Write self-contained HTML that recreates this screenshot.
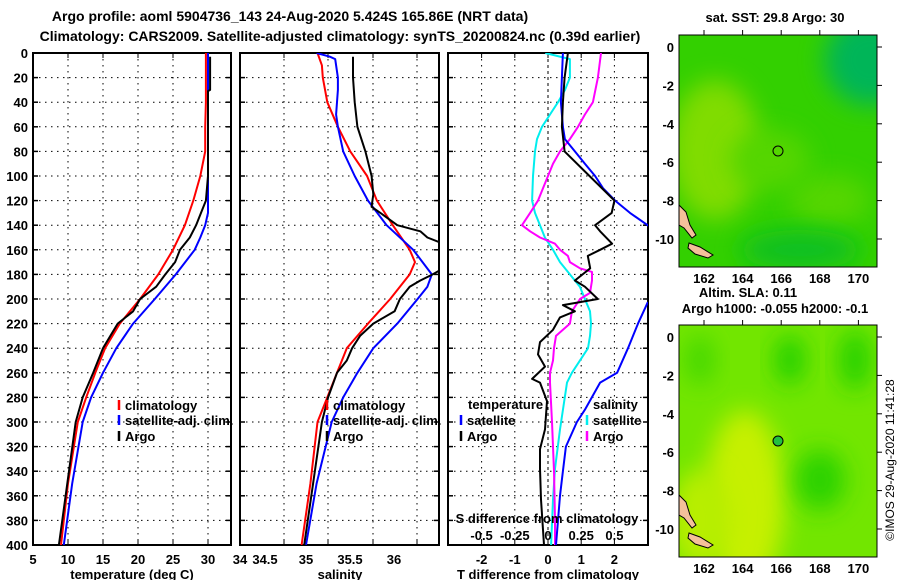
<!DOCTYPE html>
<html><head><meta charset="utf-8"><style>
body{margin:0;background:#fff;}
svg{display:block;font-family:"Liberation Sans",Arial,sans-serif;}
.t{font-weight:bold;font-size:13px;fill:#000;}
.ti{font-weight:bold;font-size:14px;fill:#000;}
</style></head><body>
<svg id="c" width="900" height="580" viewBox="0 0 900 580">
<defs>
<clipPath id="cp1"><rect x="33" y="53" width="198" height="492"/></clipPath>
<clipPath id="cp2"><rect x="240" y="53" width="199" height="492"/></clipPath>
<clipPath id="cp3"><rect x="448" y="53" width="200" height="492"/></clipPath>
<clipPath id="m1c"><rect x="679" y="35" width="198" height="232"/></clipPath>
<clipPath id="m2c"><rect x="679" y="325" width="198" height="232"/></clipPath>
<filter id="bl" x="-50%" y="-50%" width="200%" height="200%"><feGaussianBlur stdDeviation="12"/></filter>
</defs>
<text class="ti" x="290" y="21" text-anchor="middle">Argo profile: aoml 5904736_143 24-Aug-2020 5.424S 165.86E (NRT data)</text>
<text class="ti" x="340" y="41" text-anchor="middle">Climatology: CARS2009. Satellite-adjusted climatology: synTS_20200824.nc (0.39d earlier)</text>
<g id="axes"></g>
<g id="series"></g>
<g id="legends"></g>
<g>
<text class="t" x="775" y="22" text-anchor="middle">sat. SST: 29.8 Argo: 30</text>
<g clip-path="url(#m1c)">
<rect x="679" y="35" width="198" height="232" fill="#33d000"/>
<ellipse cx="715" cy="150" rx="45" ry="70" fill="#80dc00" filter="url(#bl)"/>
<ellipse cx="830" cy="200" rx="40" ry="25" fill="#55d600" filter="url(#bl)"/>
<ellipse cx="770" cy="160" rx="40" ry="30" fill="#55d600" filter="url(#bl)"/>
<ellipse cx="870" cy="60" rx="45" ry="45" fill="#00b558" filter="url(#bl)"/>
<ellipse cx="800" cy="250" rx="60" ry="20" fill="#11c020" filter="url(#bl)"/>
<path d="M679 205 L686 212 L690 225 L696 235 L692 238 L684 228 L679 225Z" fill="#f4c09a" stroke="#000" stroke-width="1"/>
<path d="M689 243 L700 247 L713 255 L708 258 L695 254 L688 248Z" fill="#f4c09a" stroke="#000" stroke-width="1"/>
<circle cx="778" cy="151" r="5" fill="none" stroke="#000" stroke-width="1"/>
</g>
<rect x="679" y="35" width="198" height="232" fill="none" stroke="#000"/>
</g>
<text class="t" x="748" y="297" text-anchor="middle">Altim. SLA: 0.11</text>
<text class="t" x="775" y="313" text-anchor="middle">Argo h1000: -0.055 h2000: -0.1</text>
<g>
<g clip-path="url(#m2c)">
<rect x="679" y="325" width="198" height="232" fill="#72e600"/>
<ellipse cx="745" cy="500" rx="40" ry="90" fill="#c6f000" filter="url(#bl)"/>
<ellipse cx="700" cy="520" rx="30" ry="50" fill="#b8ee00" filter="url(#bl)"/>
<ellipse cx="820" cy="480" rx="25" ry="30" fill="#2ad200" filter="url(#bl)"/>
<ellipse cx="790" cy="360" rx="15" ry="25" fill="#22d000" filter="url(#bl)"/>
<ellipse cx="855" cy="360" rx="15" ry="30" fill="#22d000" filter="url(#bl)"/>
<ellipse cx="700" cy="360" rx="15" ry="25" fill="#44d800" filter="url(#bl)"/>
<path d="M679 495 L686 502 L690 515 L696 525 L692 528 L684 518 L679 515Z" fill="#f4c09a" stroke="#000" stroke-width="1"/>
<path d="M689 533 L700 537 L713 545 L708 548 L695 544 L688 538Z" fill="#f4c09a" stroke="#000" stroke-width="1"/>
<circle cx="778" cy="441" r="5" fill="#22c040" stroke="#000" stroke-width="1"/>
</g>
<rect x="679" y="325" width="198" height="232" fill="none" stroke="#000"/>
</g>
<g id="maptix"></g>
<text x="894" y="460" font-size="12" text-anchor="middle" transform="rotate(-90 894 460)">©IMOS 29-Aug-2020 11:41:28</text>
</svg>
<script>
const depthTicks=[0,20,40,60,80,100,120,140,160,180,200,220,240,260,280,300,320,340,360,380,400];
const tTicks=[5,10,15,20,25,30];
const sTickLabels=["34.5","35","35.5","36"];
const tdTicks=[-2,-1,0,1,2];
const sdTicks=[-0.5,-0.25,0,0.25,0.5];
const latTicks=[0,-2,-4,-6,-8,-10];
const lonTicks=[162,164,166,168,170];
// Panel 1: temperature
const tDepthClim=[0,40,60,80,100,120,140,160,180,200,220,240,260,280,300,350,400];
const tClim=[29.7,29.7,29.6,29.6,28.9,27.9,26.7,25,22.9,20.3,17.4,15.3,13.9,12.6,11.4,10,9];
const tDepthSat=[0,120,130,140,150,160,180,200,220,240,260,280,300,350,400];
const tSat=[30,30,30,29.6,28.9,28.1,25.4,22.4,19.3,16.9,15,13.3,12.1,10.6,9.4];
const tDepthArgo=[3,30,31,100,120,130,140,150,160,170,180,190,200,210,220,240,260,280,300,400];
const tArgo=[30.3,30.3,30,30,29.7,29,28.3,27.4,26,25.3,23.9,22.6,20.3,19.3,17.1,15,13.6,12.1,11.1,8.7];
// Panel 2: salinity
const sDepthClim=[0,10,20,40,60,80,100,120,140,160,170,180,190,200,220,240,260,280,300,350,400];
const sClim=[35.13,35.18,35.19,35.24,35.36,35.5,35.69,35.8,35.98,36.17,36.23,36.17,36.06,35.95,35.7,35.46,35.35,35.24,35.13,35.05,34.95];
const sDepthSat=[0,3,5,10,20,30,40,50,60,80,100,120,140,160,180,190,200,220,240,260,280,300,350,400];
const sSat=[35.12,35.27,35.33,35.34,35.36,35.36,35.35,35.34,35.36,35.42,35.55,35.7,35.91,36.21,36.42,36.37,36.26,36.03,35.76,35.58,35.42,35.29,35.12,35.0];
const sDepthArgo=[3,20,40,60,80,100,115,125,130,140,145,150,155,175,180,185,190,200,210,220,230,240,250,260,280,300,350,400];
const sArgo=[35.53,35.53,35.55,35.58,35.67,35.74,35.76,35.74,35.84,36.03,36.29,36.37,36.55,36.55,36.43,36.29,36.17,36.06,36,35.76,35.61,35.52,35.46,35.35,35.25,35.18,35.08,34.98];
// Panel 3: differences
const dDepthTArgo=[0,20,40,60,80,100,120,130,140,145,155,160,165,175,185,190,200,205,210,215,225,235,245,255,265,268,283,306,322,338,363,400];
const dTArgo=[0.6,0.5,0.45,0.42,0.5,1.25,2.0,1.92,1.42,1.57,1.93,1.57,1.2,1.27,0.81,1.11,1.5,0.45,0.81,0.36,0.15,-0.24,-0.3,-0.09,-0.48,-0.24,-0.03,-0.09,-0.24,-0.24,-0.21,-0.12];
const dDepthTSat=[0,20,40,60,70,80,90,100,110,120,130,140,150,200,203,220,240,260,268,290,300,320,340,360,380,400];
const dTSat=[0.45,0.42,0.39,0.45,0.51,0.81,1.11,1.42,1.66,2.02,2.47,3.0,3.5,3.5,3.0,2.71,2.41,2.08,1.57,1.11,0.87,0.54,0.45,0.36,0.3,0.24];
const dDepthSSat=[0,5,10,20,30,40,50,60,70,80,100,120,130,140,150,160,170,180,190,200,210,220,230,240,260,268,306,338,363,400];
const dSSat=[-0.02,0.165,0.165,0.165,0.128,0.075,0.015,-0.045,-0.083,-0.098,-0.113,-0.12,-0.098,-0.06,-0.023,0.038,0.09,0.165,0.24,0.278,0.316,0.324,0.316,0.301,0.18,0.143,0.09,0.053,0.038,0.023];
const dDepthSArgo=[0,20,40,50,60,70,80,90,100,110,120,130,140,145,150,155,160,165,170,175,178,185,195,200,210,220,230,240,250,260,268,300,340,380,400];
const dSArgo=[0.399,0.376,0.338,0.278,0.226,0.165,0.09,0.038,0,-0.038,-0.075,-0.135,-0.196,-0.135,-0.06,0.053,0.09,0.15,0.165,0.241,0.331,0.331,0.316,0.241,0.18,0.165,0.06,0.045,0.038,0.015,0.015,0.03,0.045,0.053,0.053];

const NS='http://www.w3.org/2000/svg';
const ax=document.getElementById('axes'), se=document.getElementById('series'), lg=document.getElementById('legends'), mt=document.getElementById('maptix');
function mk(tag,attrs,parent){const e=document.createElementNS(NS,tag);for(const k in attrs)e.setAttribute(k,attrs[k]);parent.appendChild(e);return e;}
const yD=d=>53+d*1.23;
const x1=t=>33+(t-5)*7;
const x2=s=>306+(s-35)*88.6;
const x3=t=>548+t*33.2;
const x3s=s=>548+s*132.8;
const panels=[{l:33,r:231,grid:tTicks.slice(1).map(x1)},{l:240,r:439,grid:[284,328,373,417]},{l:448,r:648,grid:tdTicks.map(x3)}];
panels.forEach((p,i)=>{
  depthTicks.forEach(d=>{
    if(d>0&&d<400){
      const g=mk('line',{x1:p.l,x2:p.r,y1:yD(d),y2:yD(d),stroke:'#000','stroke-dasharray':'1.5,4.5','stroke-width':1},ax);
      
      
      const tk=mk('line',{x1:p.l,x2:p.l+5,y1:yD(d),y2:yD(d),stroke:'#000','stroke-width':1.5},ax);
      
      
      mk('line',{x1:p.r-5,x2:p.r,y1:yD(d),y2:yD(d),stroke:'#000','stroke-width':1.5},ax);
    }
  });
  p.grid.forEach(x=>{
    const g=mk('line',{x1:x,x2:x,y1:53,y2:545,stroke:'#000','stroke-dasharray':(i==2&&Math.abs(x-548)<1)?'3,3':'1.5,4.5','stroke-width':1},ax);
    
    
    mk('line',{x1:x,x2:x,y1:53,y2:58,stroke:'#000'},ax);
    mk('line',{x1:x,x2:x,y1:540,y2:545,stroke:'#000'},ax);
  });
  const fr=mk('rect',{x:p.l,y:53,width:p.r-p.l,height:492,fill:'none',stroke:'#000','stroke-width':2},ax);
  
  
});
depthTicks.forEach(d=>{
  const t=mk('text',{x:28,y:yD(d)+5,'text-anchor':'end',class:'t'},ax);
  t.textContent=d;
  
  
});
tTicks.forEach(v=>{
  const t=mk('text',{x:x1(v),y:564,'text-anchor':'middle',class:'t'},ax);
  t.textContent=v;
  
  
});
const t34=mk('text',{x:240,y:564,'text-anchor':'middle',class:'t'},ax);t34.textContent='34';
const sLabX=[265,306,350,394];
sTickLabels.forEach((v,i)=>{
  const t=mk('text',{x:sLabX[i],y:564,'text-anchor':'middle',class:'t'},ax);
  t.textContent=v;
  
  
});
tdTicks.forEach(v=>{
  const t=mk('text',{x:x3(v),y:564,'text-anchor':'middle',class:'t'},ax);
  t.textContent=v;
  
  
});
[[132,'temperature (deg C)','x-axis-title-temperature'],[340,'salinity','x-axis-title-salinity'],[548,'T difference from climatology','x-axis-title-tdiff']].forEach(a=>{
  const t=mk('text',{x:a[0],y:579,'text-anchor':'middle',class:'t'},ax);
  t.textContent=a[1];
  
  
});

function line(ds,vs,fx,color,clip,name,w){
  const pts=ds.map((d,i)=>fx(vs[i]).toFixed(1)+','+yD(d).toFixed(1)).join(' ');
  const p=mk('polyline',{points:pts,fill:'none',stroke:color,'stroke-width':w||2,'clip-path':'url(#'+clip+')','stroke-linejoin':'round'},se);
  
  
}
line(tDepthClim,tClim,x1,'#ff0000','cp1','temperature-climatology-line');
line(tDepthSat,tSat,x1,'#0000ff','cp1','temperature-satellite-line');
line(tDepthArgo,tArgo,x1,'#000','cp1','temperature-argo-line');
line(sDepthClim,sClim,x2,'#ff0000','cp2','salinity-climatology-line');
line(sDepthSat,sSat,x2,'#0000ff','cp2','salinity-satellite-line');
line(sDepthArgo,sArgo,x2,'#000','cp2','salinity-argo-line');
line(dDepthSSat,dSSat,x3s,'#00eeee','cp3','sdiff-satellite-line');
line(dDepthSArgo,dSArgo,x3s,'#ff00ff','cp3','sdiff-argo-line');
line(dDepthTSat,dTSat,x3,'#0000ff','cp3','tdiff-satellite-line');
line(dDepthTArgo,dTArgo,x3,'#000','cp3','tdiff-argo-line');

sdTicks.forEach(v=>{
  const t=mk('text',{x:x3s(v),y:540,'text-anchor':'middle',class:'t'},lg);
  t.textContent=v;
  
  
});
const sdt=mk('text',{x:547,y:523,'text-anchor':'middle',class:'t'},lg);
sdt.textContent='S difference from climatology';



function legend(x,y,color,label,name){
  if(color){
    const m=mk('line',{x1:x,x2:x,y1:y-10,y2:y,stroke:color,'stroke-width':2.5},lg);
    
    
  }
  const tx=mk('text',{x:x+(color?6:0),y:y,class:'t'},lg);
  tx.textContent=label;
  
  
}
legend(119,410,'#ff0000','climatology','legend-climatology');
legend(119,425,'#0000ff','satellite-adj. clim.','legend-satellite-adj');
legend(119,441,'#000','Argo','legend-argo');
legend(327,410,'#ff0000','climatology','legend2-climatology');
legend(327,425,'#0000ff','satellite-adj. clim.','legend2-satellite-adj');
legend(327,441,'#000','Argo','legend2-argo');
legend(468,409,null,'temperature','legend3-temperature');
legend(461,425,'#0000ff','satellite','legend3-t-satellite');
legend(461,441,'#000','Argo','legend3-t-argo');
legend(593,409,null,'salinity','legend3-salinity');
legend(587,425,'#00eeee','satellite','legend3-s-satellite');
legend(587,441,'#ff00ff','Argo','legend3-s-argo');

// map ticks
const lonX=v=>704+(v-162)*19.3;
[[47,283,'sst'],[337,573,'sla']].forEach(m=>{
  const top=m[2]=='sst'?35:325;
  latTicks.forEach(v=>{
    const y=m[0]-v*19.2;
    const t=mk('text',{x:674,y:y+5,'text-anchor':'end',class:'t'},mt);
    t.textContent=v;
    
    
    mk('line',{x1:877,x2:882,y1:y,y2:y,stroke:'#000'},mt);
  });
  lonTicks.forEach(v=>{
    const t=mk('text',{x:lonX(v),y:m[1],'text-anchor':'middle',class:'t'},mt);
    t.textContent=v;
    
    
    mk('line',{x1:lonX(v),x2:lonX(v),y1:top-5,y2:top,stroke:'#000'},mt);
  });
});
</script>
</body></html>
